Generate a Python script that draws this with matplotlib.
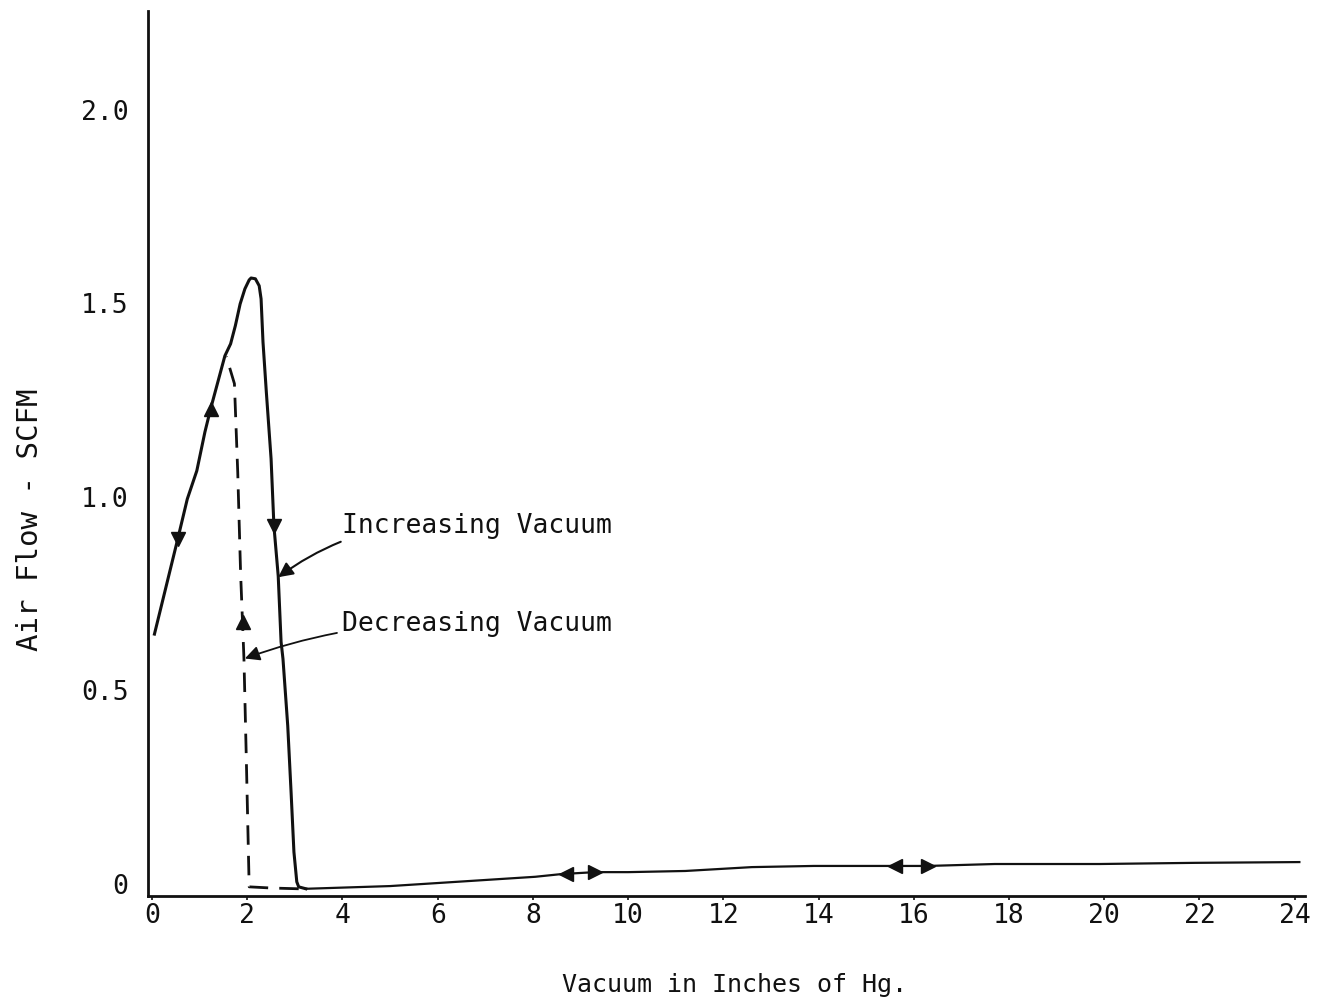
import matplotlib.pyplot as plt

# values
# increasing vacuum: up the left branch, over the peak, down to zero, then out along the floor
inc_x = [0.05, 0.54, 0.74, 0.94, 1.11, 1.23, 1.53, 1.65, 1.75, 1.85, 1.95, 2.04, 2.08, 2.17,
         2.25, 2.29, 2.33, 2.40, 2.46, 2.50, 2.56, 2.65, 2.71, 2.75, 2.85, 2.92, 2.98, 3.04,
         3.08, 3.23,
         5.0, 6.4, 8.05, 8.6, 9.3, 10.0, 11.2, 12.6, 13.9, 15.6, 16.3, 17.7, 19.9, 21.9, 24.1]
inc_y = [0.643, 0.889, 0.992, 1.065, 1.165, 1.225, 1.362, 1.393, 1.440, 1.496, 1.535, 1.558,
         1.563, 1.561, 1.543, 1.509, 1.398, 1.269, 1.165, 1.096, 0.922, 0.793, 0.623, 0.579,
         0.406, 0.235, 0.080, 0.003, -0.010, -0.015,
         -0.008, 0.003, 0.016, 0.023, 0.028, 0.028, 0.031, 0.041, 0.044, 0.044, 0.044, 0.049,
         0.049, 0.052, 0.054]
n_steep = 30  # points drawn with the heavier pen (left branch, peak and drop)

# decreasing vacuum: back along the floor, then straight up near 2 in. Hg
dec_x = [3.08, 2.50, 2.04, 1.98, 1.93, 1.86, 1.80, 1.73, 1.56]
dec_y = [-0.015, -0.013, -0.010, 0.32, 0.58, 0.80, 1.06, 1.29, 1.36]

# direction arrows drawn on the curves
arrow_x = [1.23, 0.54, 2.56, 1.90, 8.7, 15.6, 9.3, 16.3]
arrow_y = [1.225, 0.889, 0.922, 0.674, 0.023, 0.044, 0.028, 0.044]
arrow_m = ['^', 'v', 'v', '^', '<', '<', '>', '>']

x_ticks = list(range(0, 25, 2))
y_ticks = [0, 0.5, 1.0, 1.5, 2.0]
y_tick_labels = ['0', '0.5', '1.0', '1.5', '2.0']

ink = '#111111'
mono = ['DejaVu Sans Mono']

fig = plt.figure(figsize=(13.22, 10.03), dpi=100)
ax = fig.add_axes([0.112, 0.1057, 0.8752, 0.8824])

ax.plot(inc_x[:n_steep], inc_y[:n_steep], color=ink, lw=2.2, solid_joinstyle='round')
ax.plot(inc_x[n_steep - 1:], inc_y[n_steep - 1:], color=ink, lw=1.6)
ax.plot(dec_x, dec_y, color=ink, lw=2.0, dashes=(7, 4))

for x, y, m in zip(arrow_x, arrow_y, arrow_m):
    ax.plot(x, y, marker=m, color=ink, markersize=10, linestyle='none')

# callouts
ax.annotate('Increasing Vacuum', xy=(2.65, 0.79), xytext=(4.0, 0.925),
            fontsize=19, family=mono, color=ink, va='center', ha='left',
            arrowprops=dict(arrowstyle='-|>', color=ink, lw=1.5, mutation_scale=22,
                            shrinkA=2, shrinkB=0, connectionstyle='arc3,rad=0.2'))
ax.annotate('Decreasing Vacuum', xy=(1.95, 0.58), xytext=(4.0, 0.672),
            fontsize=19, family=mono, color=ink, va='center', ha='left',
            arrowprops=dict(arrowstyle='-|>', color=ink, lw=1.3, mutation_scale=22,
                            shrinkA=2, shrinkB=0, connectionstyle='arc3,rad=0.1'))

ax.set_xlim(-0.084, 24.22)
ax.set_ylim(-0.0336, 2.253)
ax.set_xticks(x_ticks)
ax.set_xticklabels([str(t) for t in x_ticks], family=mono, fontsize=19, color=ink)
ax.set_yticks(y_ticks)
ax.set_yticklabels(y_tick_labels, family=mono, fontsize=19, color=ink)
ax.tick_params(axis='x', length=3, width=1.2, pad=1, color=ink)
ax.tick_params(axis='y', length=0, pad=14)

for side in ['top', 'right']:
    ax.spines[side].set_visible(False)
for side in ['left', 'bottom']:
    ax.spines[side].set_linewidth(2.0)
    ax.spines[side].set_color(ink)

fig.text(734 / 1322, 1 - 985 / 1003, 'Vacuum in Inches of Hg.', family=mono, fontsize=18,
         color=ink, ha='center', va='center')
fig.text(30 / 1322, 1 - 520 / 1003, 'Air Flow - SCFM', family=mono, fontsize=21,
         color=ink, ha='center', va='center', rotation=90)

fig.savefig('out.png', dpi=100)
